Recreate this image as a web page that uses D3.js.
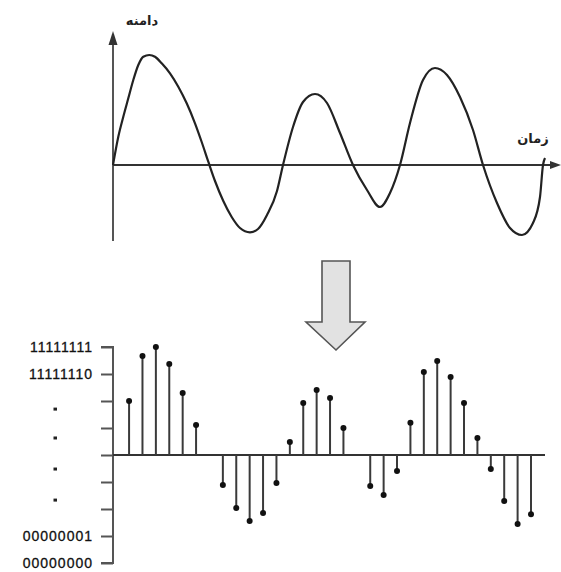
<!DOCTYPE html>
<html><head><meta charset="utf-8">
<script src="https://cdn.jsdelivr.net/npm/d3@7"></script>
<style>body{margin:0;background:#fff}svg{display:block}</style>
</head><body>
<svg id="c" width="561" height="572"></svg>
<script>
// Top analog wave: time (px-like units from origin) and amplitude
const waveT = [0,5.3,10.3,15.3,20.3,25.3,30.3,36.3,42,48.7,57,65.3,73.7,82,88.7,95.3,102,110.3,118.7,127,137,145,154,164,170,180,190,202,214,227,240,254,267,277,287,297,310,322,334,347,360,370,384,397,409,420,427,430,432];
const waveA = [0,28.3,48.3,66.7,85,100,108.3,110,108.3,101.7,91.7,78.3,61.7,41.7,23,3.3,-16,-36,-52,-63,-67.3,-64,-50,-26,0,38,63,71,62,32,0,-25,-42,-28,0,42,85,97,90,68,35,0,-38,-63,-70,-58,-32,0,7];
const axisLabelY = "دامنه";
const axisLabelX = "زمان";

// Bottom sampled signal (tick units), null = no stem
const sampleValues = [2.0,3.67,4.0,3.37,2.3,1.11,null,-1.11,-1.96,-2.44,-2.15,-1.04,0.48,1.93,2.41,2.11,1.0,null,-1.15,-1.48,-0.59,1.19,3.07,3.48,2.89,1.93,0.63,-0.52,-1.7,-2.56,-2.19];
const tickValues = [4,3,2,1,0,-1,-2,-3,-4];
const codeLabels = ["11111111","11111110","00000001","00000000"];
const codeLabelValues = [4,3,-3,-4];
const dotLabelValues = [1.7,0.63,-0.52,-1.67];

const svg = d3.select("#c");
svg.append("rect").attr("width",561).attr("height",572).attr("fill","#fff");

// ---------- TOP CHART ----------
const xT = d3.scaleLinear().domain([0,450]).range([113,563]);
const yT = d3.scaleLinear().domain([0,110]).range([165,55]);
const gTop = svg.append("g");
gTop.append("line").attr("x1",xT(0)).attr("x2",xT(0)).attr("y1",42).attr("y2",241)
  .attr("stroke","#555").attr("stroke-width",2);
gTop.append("path").attr("d",`M${xT(0)-4.5},45 L${xT(0)},31 L${xT(0)+4.5},45 Z`).attr("fill","#333");
gTop.append("line").attr("x1",xT(0)).attr("x2",552).attr("y1",yT(0)).attr("y2",yT(0))
  .attr("stroke","#333").attr("stroke-width",2);
gTop.append("path").attr("d",`M550,${yT(0)-4} L561,${yT(0)} L550,${yT(0)+4} Z`).attr("fill","#333");

const line = d3.line().x((d,i)=>xT(waveT[i])).y((d,i)=>yT(waveA[i])).curve(d3.curveMonotoneX);
gTop.append("path").attr("d",line(waveT)).attr("fill","none").attr("stroke","#222").attr("stroke-width",2.2);

gTop.append("text").attr("x",142).attr("y",25).attr("text-anchor","middle")
  .attr("font-family","DejaVu Sans").attr("font-weight","bold").attr("font-size",13).attr("fill","#222")
  .text(axisLabelY);
gTop.append("text").attr("x",533).attr("y",143).attr("text-anchor","middle")
  .attr("font-family","DejaVu Sans").attr("font-weight","bold").attr("font-size",13).attr("fill","#222")
  .text(axisLabelX);

// ---------- ARROW ----------
svg.append("path")
  .attr("d","M322,261 L350,261 L350,322 L365,322 L336,350 L306,322 L322,322 Z")
  .attr("fill","#e2e2e2").attr("stroke","#555").attr("stroke-width",1.6).attr("stroke-linejoin","miter");

// ---------- BOTTOM CHART ----------
const xB = d3.scaleLinear().domain([-1.2,30]).range([113,531]);
const yB = d3.scaleLinear().domain([-4,4]).range([563,347]);
const bot = svg.append("g");

// y axis with ticks to the left
const yAxis = d3.axisLeft(yB).tickValues(tickValues).tickSize(12).tickFormat("");
const ax = bot.append("g").attr("transform",`translate(${xB(-1.2)},0)`).call(yAxis);
ax.select(".domain").attr("stroke","#555").attr("stroke-width",2).attr("d",`M-12,${yB(4)}H0V${yB(-4)}H-12`);
ax.selectAll(".tick line").attr("stroke","#555").attr("stroke-width",2);

// zero line
bot.append("line").attr("x1",xB(-1.2)).attr("x2",545).attr("y1",yB(0)).attr("y2",yB(0))
  .attr("stroke","#333").attr("stroke-width",2);

// labels
bot.selectAll("text.code").data(codeLabels).enter().append("text")
  .attr("class","code").attr("x",93).attr("y",(d,i)=>yB(codeLabelValues[i])+5)
  .attr("text-anchor","end").attr("font-family","Liberation Sans, Arial").attr("font-size",14)
  .attr("letter-spacing",1).attr("fill","#111").attr("stroke","#111").attr("stroke-width",0.3).text(d=>d);
bot.selectAll("rect.dotl").data(dotLabelValues).enter().append("rect")
  .attr("class","dotl").attr("x",53.5).attr("y",d=>yB(d)-1.5).attr("width",3.5).attr("height",3).attr("fill","#222");

// stems
const samples = sampleValues.map((v,i)=>({i,v})).filter(d=>d.v!==null);
bot.selectAll("line.stem").data(samples).enter().append("line")
  .attr("class","stem").attr("x1",d=>xB(d.i)).attr("x2",d=>xB(d.i))
  .attr("y1",yB(0)).attr("y2",d=>yB(d.v)).attr("stroke","#3a3a3a").attr("stroke-width",2);
bot.selectAll("circle.dot").data(samples).enter().append("circle")
  .attr("class","dot").attr("cx",d=>xB(d.i)).attr("cy",d=>yB(d.v)).attr("r",3).attr("fill","#111");
</script>
</body></html>
